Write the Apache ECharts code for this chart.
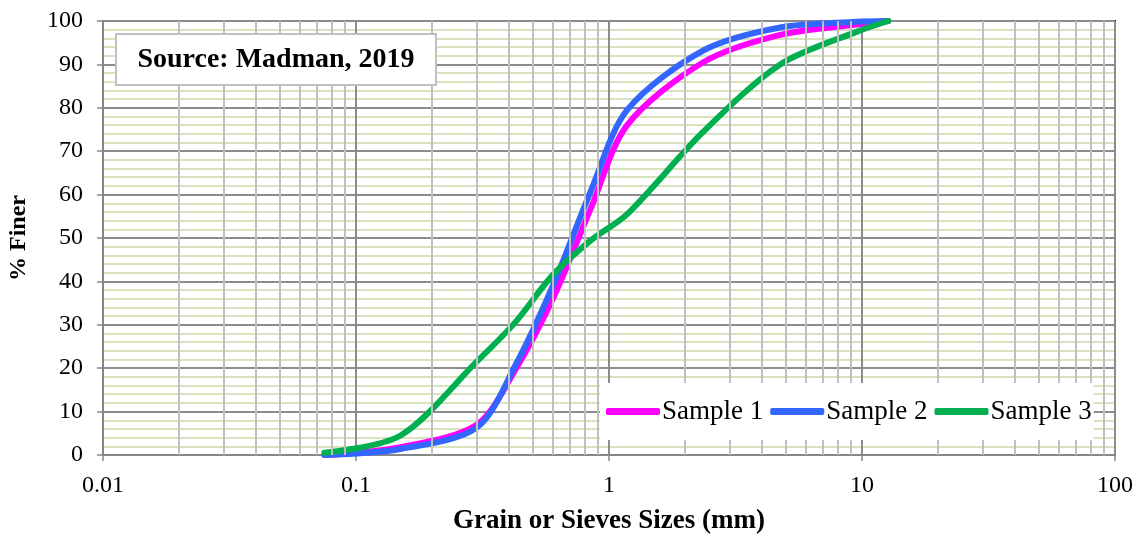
<!DOCTYPE html>
<html>
<head>
<meta charset="utf-8">
<script src="https://cdn.jsdelivr.net/npm/echarts@6/dist/echarts.min.js"></script>
<style>
  html, body { margin: 0; padding: 0; background: #fff; }
  #chartGrain { width: 1143px; height: 537px; }
</style>
</head>
<body>
<div id="chartGrain"></div>
<script>
// sieve sizes (mm) and % finer for each sample
var sieveSizes = [0.075, 0.15, 0.3, 0.425, 0.6, 0.85, 1.18, 2.36, 4.75, 9.5, 12.7];
var sample1 = [0, 1.8, 7, 19.5, 36, 57, 76, 90.5, 96.8, 99.2, 100];
var sample2 = [0, 1.4, 6.3, 20.5, 39, 61, 79.5, 93.2, 98.5, 99.8, 100];
var sample3 = [0.5, 4.5, 21.5, 30.5, 41.5, 49.5, 55.5, 74.5, 90, 97.5, 100];
var seriesNames = ['Sample 1', 'Sample 2', 'Sample 3'];
var yTicks = [0, 10, 20, 30, 40, 50, 60, 70, 80, 90, 100];

var serif = '"Liberation Serif", "Times New Roman", serif';

function pairs(xs, ys) {
    return xs.map(function(x, i) { return [x, ys[i]]; });
}

// log minor grid lines 2..9 in each decade
var minorX = [];
[0.01, 0.1, 1, 10].forEach(function(d) {
    for (var k = 2; k <= 9; k++) minorX.push(+(d * k).toFixed(4));
});

var dom = document.getElementById('chartGrain');
var myChart = echarts.init(dom);

function curve(name, ys, color) {
    return {
        name: name,
        type: 'line',
        data: pairs(sieveSizes, ys),
        smooth: 0.3,
        showSymbol: false,
        z: 3,
        lineStyle: { color: color, width: 6, cap: 'round', join: 'round' },
        itemStyle: { color: color }
    };
}

var option = {
    animation: false,
    grid: {
        left: 103, right: 28, top: 21, bottom: 82,
        outerBoundsMode: 'none',
        containLabel: false,
        show: true,
        borderColor: '#000',
        borderWidth: 2
    },
    legend: {
        data: seriesNames,
        left: 600,
        top: 383,
        z: 20,
        backgroundColor: '#fff',
        padding: [15, 2, 15, 6],
        itemWidth: 54,
        itemHeight: 7,
        itemGap: 7,
        icon: 'roundRect',
        textStyle: { fontFamily: serif, fontSize: 27, color: '#000', padding: [0, 0, 0, -3] }
    },
    xAxis: {
        type: 'log',
        logBase: 10,
        min: 0.01,
        max: 100,
        name: 'Grain or Sieves Sizes (mm)',
        nameLocation: 'middle',
        nameGap: 53,
        nameTextStyle: { fontFamily: serif, fontSize: 27, fontWeight: 'bold', color: '#000' },
        axisLine: { lineStyle: { color: '#868686', width: 2 } },
        axisTick: { show: true, length: 6, lineStyle: { color: '#868686', width: 1.5 } },
        axisLabel: {
            margin: 19,
            fontFamily: serif, fontSize: 24, color: '#000',
            formatter: function(v) { return String(+v.toPrecision(3)); }
        },
        splitLine: { show: true, lineStyle: { color: '#8c8c8c', width: 2 } }
    },
    yAxis: {
        type: 'value',
        min: 0,
        max: 100,
        interval: 10,
        name: '% Finer',
        nameLocation: 'middle',
        nameGap: 72,
        nameTextStyle: { fontFamily: serif, fontSize: 24, fontWeight: 'bold', color: '#000' },
        axisLine: { show: true, lineStyle: { color: '#868686', width: 2 } },
        axisTick: { show: true, length: 6, lineStyle: { color: '#868686', width: 1.5 } },
        axisLabel: {
            margin: 20,
            fontFamily: serif, fontSize: 24, color: '#000',
            formatter: function(v) { return yTicks.indexOf(v) >= 0 ? String(v) : ''; }
        },
        splitLine: { show: true, lineStyle: { color: '#8c8c8c', width: 2 } },
        minorTick: { show: false, splitNumber: 5 },
        minorSplitLine: { show: true, lineStyle: { color: '#d7e3bc', width: 2 } }
    },
    graphic: [{
        type: 'group',
        left: 115,
        top: 33,
        z: 20,
        children: [{
            type: 'rect',
            z: 20,
            shape: { x: 0, y: 0, width: 320, height: 51 },
            style: { fill: '#fff', stroke: '#c0c0c0', lineWidth: 2 }
        }, {
            type: 'text',
            z: 21,
            x: 160,
            y: 26,
            style: {
                text: 'Source: Madman, 2019',
                font: 'bold 28px ' + serif,
                fill: '#000',
                align: 'center',
                verticalAlign: 'middle'
            }
        }]
    }],
    series: [{
        // vertical minor grid (log 2..9)
        type: 'line',
        data: [],
        silent: true,
        z: 1,
        markLine: {
            silent: true,
            symbol: 'none',
            animation: false,
            label: { show: false },
            lineStyle: { color: '#bfbfbf', type: 'solid', width: 2 },
            data: minorX.map(function(v) { return { xAxis: v }; })
        }
    },
        curve(seriesNames[0], sample1, '#ff00ff'),
        curve(seriesNames[1], sample2, '#3366ff'),
        curve(seriesNames[2], sample3, '#00b050')
    ]
};

myChart.setOption(option);

window.onresize = function() {
    myChart.resize();
};
</script>
</body>
</html>
